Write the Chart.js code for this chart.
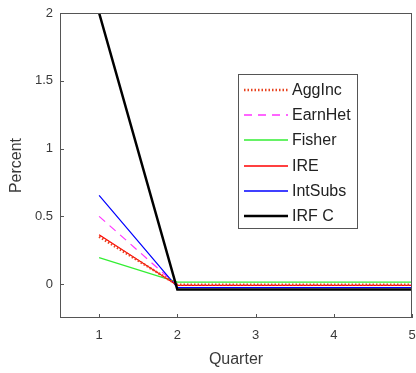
<!DOCTYPE html>
<html>
<head>
<meta charset="utf-8">
<script src="https://cdn.jsdelivr.net/npm/chart.js@4/dist/chart.umd.min.js"></script>
<style>
  html, body { margin: 0; padding: 0; background: #fff; }
  #wrap { width: 416px; height: 373px; }
</style>
</head>
<body>
<div id="wrap"><canvas id="myChart"></canvas></div>
<script>
const quarters = [1, 2, 3, 4, 5];
const xTicks = [1, 2, 3, 4, 5];
const yTicks = [0, 0.5, 1, 1.5, 2];

const aggInc  = [0.35, -0.005, -0.005, -0.005, -0.005];
const earnHet = [0.50, -0.01, -0.01, -0.01, -0.01];
const fisher  = [0.195, 0.015, 0.015, 0.015, 0.015];
const ire     = [0.365, -0.01, -0.01, -0.01, -0.01];
const intSubs = [0.655, -0.025, -0.025, -0.025, -0.025];
const irfC    = [2.0, -0.04, -0.04, -0.04, -0.04];

const seriesNames = ['AggInc', 'EarnHet', 'Fisher', 'IRE', 'IntSubs', 'IRF C'];
const seriesValues = [aggInc, earnHet, fisher, ire, intSubs, irfC];
const seriesColors = ['#e8421e', '#ff33ff', '#33ee33', '#ff0000', '#0000ff', '#000000'];
const seriesDash = [[1.5, 2], [8, 6], [], [], [], []];
const seriesWidth = [2.5, 1.2, 1.2, 1.2, 1.2, 2.5];
const seriesOrder = [1, 4, 5, 2, 3, 0];

const textColor = '#3a3a3a';
const axisColor = '#555555';

const datasets = seriesNames.map((name, i) => ({
    label: name,
    data: quarters.map((q, j) => ({x: q, y: seriesValues[i][j]})),
    borderColor: seriesColors[i],
    borderWidth: seriesWidth[i],
    borderDash: seriesDash[i],
    pointRadius: 0,
    fill: false,
    tension: 0,
    order: seriesOrder[i]
}));

// box around the plot, inward ticks and a legend inside the axes, MATLAB style
const matlabAxes = {
    id: 'matlabAxes',
    afterDatasetsDraw(chart) {
        const ctx = chart.ctx;
        const a = chart.chartArea;
        const xs = chart.scales.x, ys = chart.scales.y;
        ctx.save();
        ctx.strokeStyle = axisColor;
        ctx.lineWidth = 1;
        ctx.setLineDash([]);
        ctx.strokeRect(a.left + 0.5, a.top + 0.5, a.right - a.left - 1, a.bottom - a.top - 1);
        ctx.beginPath();
        const tl = 4;
        xTicks.forEach(v => {
            const px = Math.round(xs.getPixelForValue(v)) + 0.5;
            ctx.moveTo(px, a.bottom); ctx.lineTo(px, a.bottom - tl);
        });
        yTicks.forEach(v => {
            const py = Math.round(ys.getPixelForValue(v)) + 0.5;
            ctx.moveTo(a.left, py); ctx.lineTo(a.left + tl, py);
        });
        ctx.stroke();

        // legend
        const bx = a.left + 178, by = a.top + 61, bw = 119, rowH = 25.2;
        const bh = 154;
        ctx.fillStyle = '#fff';
        ctx.fillRect(bx, by, bw, bh);
        ctx.strokeStyle = axisColor;
        ctx.lineWidth = 1;
        ctx.strokeRect(bx + 0.5, by + 0.5, bw, bh);
        ctx.font = '16px "Liberation Sans", Arial, sans-serif';
        ctx.textBaseline = 'middle';
        seriesNames.forEach((name, i) => {
            const y = Math.round(by + 16 + i * rowH);
            ctx.beginPath();
            ctx.strokeStyle = seriesColors[i];
            ctx.lineWidth = seriesWidth[i] > 2 ? 2.5 : 1.5;
            ctx.setLineDash(seriesDash[i]);
            ctx.moveTo(bx + 6, y);
            ctx.lineTo(bx + 50, y);
            ctx.stroke();
            ctx.setLineDash([]);
            ctx.fillStyle = '#222';
            ctx.fillText(name, bx + 54, y + 1);
        });
        ctx.restore();
    }
};

const config = {
    type: 'line',
    data: {datasets: datasets},
    options: {
        responsive: true,
        maintainAspectRatio: false,
        animation: false,
        layout: {padding: {top: 13, right: 4, left: 0, bottom: 0}},
        plugins: {legend: {display: false}, tooltip: {enabled: false}},
        scales: {
            x: {
                type: 'linear',
                min: 0.5,
                max: 5,
                afterBuildTicks: s => { s.ticks = xTicks.map(v => ({value: v})); },
                afterFit: s => { s.height = 55; s.paddingLeft = 0; s.paddingRight = 0; },
                grid: {display: false, drawTicks: false},
                border: {display: false},
                ticks: {
                    color: textColor,
                    padding: 10,
                    font: {family: '"Liberation Sans", Arial, sans-serif', size: 13}
                },
                title: {
                    display: true,
                    text: 'Quarter',
                    color: textColor,
                    padding: {top: 0, bottom: 4},
                    font: {family: '"Liberation Sans", Arial, sans-serif', size: 16}
                }
            },
            y: {
                min: -0.25,
                max: 2,
                afterBuildTicks: s => { s.ticks = yTicks.map(v => ({value: v})); },
                afterFit: s => { s.width = 60; s.paddingTop = 0; s.paddingBottom = 0; },
                grid: {display: false, drawTicks: false},
                border: {display: false},
                ticks: {
                    color: textColor,
                    padding: 7,
                    callback: v => String(v),
                    font: {family: '"Liberation Sans", Arial, sans-serif', size: 13}
                },
                title: {
                    display: true,
                    text: 'Percent',
                    color: textColor,
                    padding: {top: 7, bottom: 0},
                    font: {family: '"Liberation Sans", Arial, sans-serif', size: 16}
                }
            }
        }
    },
    plugins: [matlabAxes]
};

const myChart = new Chart(document.getElementById('myChart'), config);
</script>
</body>
</html>
